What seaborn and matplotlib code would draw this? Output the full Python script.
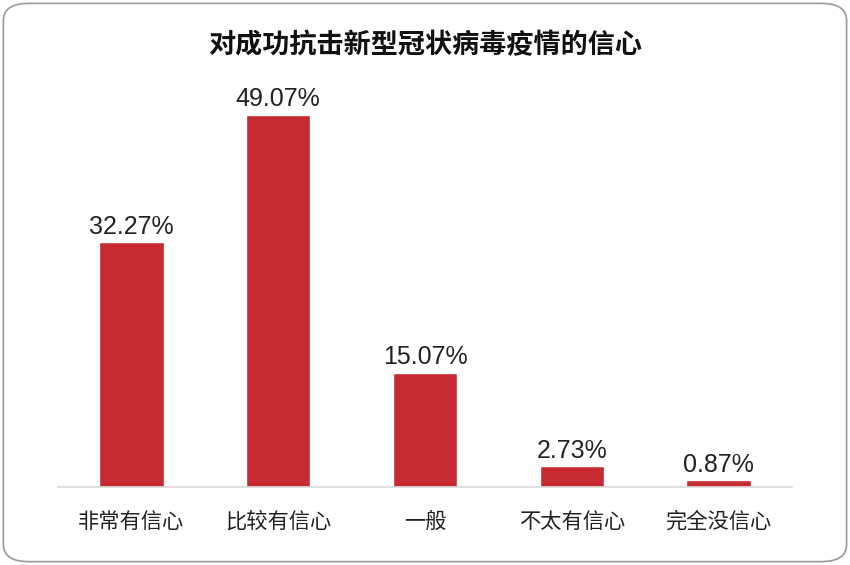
import matplotlib
matplotlib.use("Agg")
import matplotlib.pyplot as plt
import seaborn as sns
import pandas as pd
from matplotlib.patches import FancyBboxPatch

# data
categories = ["非常有信心", "比较有信心", "一般", "不太有信心", "完全没信心"]
values = [32.27, 49.07, 15.07, 2.73, 0.87]
title = "对成功抗击新型冠状病毒疫情的信心"

sns.set_theme(style="white")
plt.rcParams['font.family'] = ['Noto Sans CJK SC', 'DejaVu Sans']

df = pd.DataFrame({"category": categories, "value": values})

fig = plt.figure(figsize=(8.5, 5.65), dpi=100)
ax = fig.add_axes([0.0682, 0.138, 0.8636, 0.738])

sns.barplot(data=df, x="category", y="value", color="#C62B31",
            saturation=1, width=0.44, ax=ax)

ax.set_xlim(-0.5, len(categories) - 0.5)
ax.set_ylim(0, 55)

# value labels above each bar
for i, v in enumerate(values):
    ax.text(i, v + 0.5, f"{v:.2f}%", ha="center", va="bottom",
            fontsize=18, color="#222222",
            family=['Liberation Sans', 'Noto Sans CJK SC'])

ax.set_xlabel("")
ax.set_ylabel("")
ax.set_yticks([])
ax.tick_params(axis="x", length=0, pad=17, labelsize=15.3, labelcolor="#222222")
for side in ["top", "right", "left"]:
    ax.spines[side].set_visible(False)
ax.spines["bottom"].set_color("#D9D9D9")
ax.spines["bottom"].set_linewidth(1.2)

fig.text(0.5, 0.92, title, ha="center", va="center", fontsize=19.5,
         fontweight="bold", color="#111111")

# rounded frame around the picture
frame = FancyBboxPatch((0.004, 0.006), 0.992, 0.988,
                       boxstyle="round,pad=0,rounding_size=0.03",
                       transform=fig.transFigure, fill=False,
                       edgecolor="#999999", linewidth=1.2)
fig.patches.append(frame)

fig.savefig("out.png", dpi=100)
